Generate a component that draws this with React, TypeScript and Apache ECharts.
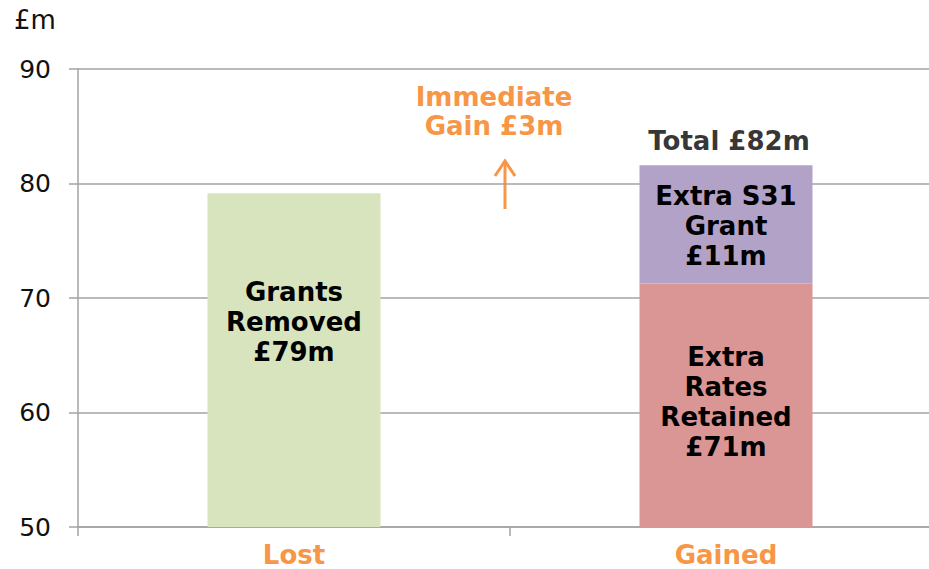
import React, { useEffect, useRef } from "react";
import * as echarts from "echarts";

const categories = ["Lost", "Gained"];
const grantsRemoved = [79.15, null];
const ratesRetained = [null, 71.26];
const extraGrant = [null, 10.34];
const totalGained = [null, 81.6];
const yTicks = { min: 50, max: 90, interval: 10 };
const grantsLabel = "Grants\nRemoved\n£79m";
const ratesLabel = "Extra\nRates\nRetained\n£71m";
const extraLabel = "Extra S31\nGrant\n£11m";
const totalLabel = "Total £82m";
const gainNote = "Immediate\nGain £3m";
const unitLabel = "£m";

const FONT = "'DejaVu Sans', Verdana, sans-serif";
const ORANGE = "#F79646";
const GRID = "#a3a3a3";

const toData = (arr: (number | null)[]) => arr.map((v) => (v == null ? "-" : v));

export default function App() {
  const ref = useRef<HTMLDivElement>(null);
  useEffect(() => {
    document.body.style.margin = "0";
    if (!ref.current) return;
    const chart = echarts.init(ref.current, undefined, { renderer: "svg" });
    const boldLabel = {
      fontFamily: FONT,
      fontWeight: "bold" as const,
      fontSize: 26,
      lineHeight: 30,
      color: "#000",
      align: "center" as const,
    };
    chart.setOption({
      animation: false,
      backgroundColor: "#fff",
      grid: { left: 78, top: 69, width: 864, height: 458, containLabel: false, outerBoundsMode: "none" },
      xAxis: {
        type: "category",
        data: categories,
        axisLine: { lineStyle: { color: GRID, width: 1.5 } },
        axisTick: { show: true, length: 9, lineStyle: { color: GRID, width: 1.5 } },
        axisLabel: { fontFamily: FONT, fontWeight: "bold", fontSize: 26, color: ORANGE, margin: 15 },
      },
      yAxis: {
        type: "value",
        min: yTicks.min,
        max: yTicks.max,
        interval: yTicks.interval,
        axisLine: { show: true, lineStyle: { color: GRID, width: 1.5 } },
        axisTick: { show: true, length: 9, lineStyle: { color: GRID, width: 1.5 } },
        axisLabel: { fontFamily: FONT, fontSize: 25, color: "#111", margin: 27 },
        splitLine: { lineStyle: { color: GRID, width: 1.5 } },
      },
      series: [
        {
          type: "bar",
          name: "Grants Removed",
          data: toData(grantsRemoved),
          barWidth: 173,
          barGap: "-100%",
          itemStyle: { color: "#D7E4BD" },
          label: { show: true, position: "insideTop", distance: 84, formatter: grantsLabel, ...boldLabel },
        },
        {
          type: "bar",
          name: "Extra Rates Retained",
          stack: "gained",
          data: toData(ratesRetained),
          barWidth: 173,
          barGap: "-100%",
          itemStyle: { color: "#D99694" },
          label: { show: true, position: "insideTop", distance: 58, formatter: ratesLabel, ...boldLabel },
        },
        {
          type: "bar",
          name: "Extra S31 Grant",
          stack: "gained",
          data: toData(extraGrant),
          barWidth: 173,
          barGap: "-100%",
          itemStyle: { color: "#B3A2C7" },
          label: { show: true, position: "inside", offset: [0, 2], formatter: extraLabel, ...boldLabel },
        },
        {
          type: "scatter",
          name: "Total",
          data: toData(totalGained),
          symbolSize: 1,
          itemStyle: { color: "rgba(0,0,0,0)" },
          label: { show: true, position: "top", distance: 9, offset: [3, 0], formatter: totalLabel, ...boldLabel },
        },
      ],
      graphic: [
        {
          type: "text",
          left: 14,
          top: 7,
          style: { text: unitLabel, fontFamily: FONT, fontSize: 26, fill: "#111" },
        },
        {
          type: "text",
          x: 494,
          y: 111,
          style: {
            text: gainNote,
            fontFamily: FONT,
            fontWeight: "bold",
            fontSize: 26,
            lineHeight: 29,
            fill: ORANGE,
            align: "center",
            verticalAlign: "middle",
          },
        },
        {
          type: "line",
          shape: { x1: 505, y1: 209, x2: 505, y2: 161 },
          style: { stroke: ORANGE, lineWidth: 3 },
        },
        {
          type: "polyline",
          shape: { points: [[495, 176], [505, 161], [515, 176]] },
          style: { stroke: ORANGE, lineWidth: 3, fill: null },
        },
      ],
    });
    return () => chart.dispose();
  }, []);
  return <div ref={ref} style={{ width: 929, height: 569 }} />;
}
